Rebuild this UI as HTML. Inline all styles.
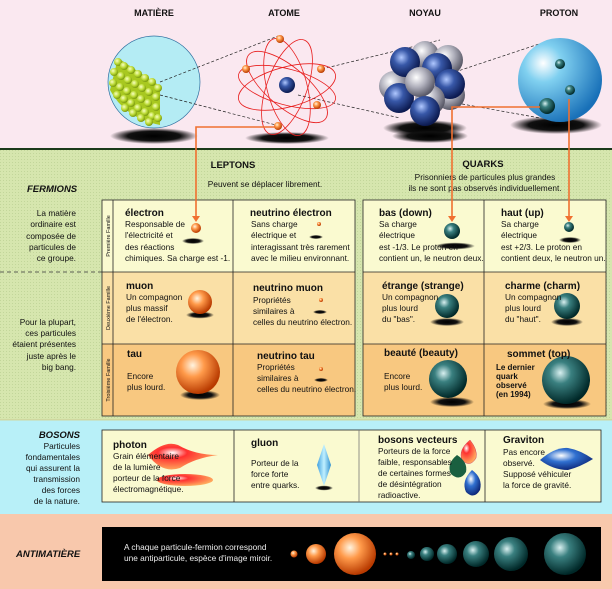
<!DOCTYPE html>
<html><head><meta charset="utf-8"><style>
html,body{margin:0;padding:0;background:#fff}
svg{display:block}
text{font-family:"Liberation Sans",sans-serif;fill:#111}
.h{font-weight:bold;font-size:9px}
.t{font-size:8.3px}
.b{font-weight:bold;font-size:10px}
.fi{font-weight:bold;font-style:italic;font-size:9.5px}
.vl{font-size:5.5px}
</style></head><body>
<svg width="612" height="589" viewBox="0 0 612 589" xmlns="http://www.w3.org/2000/svg">
<defs>
<radialGradient id="or" cx="0.38" cy="0.35" r="0.65"><stop offset="0" stop-color="#fff4e0"/><stop offset="0.4" stop-color="#ff9a4a"/><stop offset="1" stop-color="#b83a00"/></radialGradient>
<radialGradient id="te" cx="0.38" cy="0.35" r="0.65"><stop offset="0" stop-color="#d8f0f0"/><stop offset="0.35" stop-color="#3a8080"/><stop offset="1" stop-color="#002828"/></radialGradient>
<radialGradient id="bl" cx="0.38" cy="0.35" r="0.65"><stop offset="0" stop-color="#b0c8ff"/><stop offset="0.4" stop-color="#3858a8"/><stop offset="1" stop-color="#0c1a50"/></radialGradient>
<radialGradient id="gr" cx="0.38" cy="0.35" r="0.65"><stop offset="0" stop-color="#ffffff"/><stop offset="0.5" stop-color="#b0b0bc"/><stop offset="1" stop-color="#5a5a68"/></radialGradient>
<radialGradient id="gn" cx="0.38" cy="0.35" r="0.65"><stop offset="0" stop-color="#f8ffc0"/><stop offset="0.6" stop-color="#b8d830"/><stop offset="1" stop-color="#7a9810"/></radialGradient>
<radialGradient id="pr" cx="0.3" cy="0.3" r="0.75"><stop offset="0" stop-color="#ffffff"/><stop offset="0.3" stop-color="#80d0f0"/><stop offset="1" stop-color="#1870b8"/></radialGradient>
<radialGradient id="sh" cx="0.5" cy="0.5" r="0.5"><stop offset="0" stop-color="#000"/><stop offset="0.6" stop-color="#111"/><stop offset="1" stop-color="#000" stop-opacity="0"/></radialGradient>
<radialGradient id="red" cx="0.35" cy="0.35" r="0.7"><stop offset="0" stop-color="#fff"/><stop offset="0.3" stop-color="#ff3030"/><stop offset="1" stop-color="#ffb060"/></radialGradient>
<radialGradient id="blu" cx="0.4" cy="0.35" r="0.7"><stop offset="0" stop-color="#fff"/><stop offset="0.4" stop-color="#3070d0"/><stop offset="1" stop-color="#0a2070"/></radialGradient>
<linearGradient id="cy" x1="0" x2="1"><stop offset="0" stop-color="#40a0e0"/><stop offset="0.5" stop-color="#c0f0ff"/><stop offset="1" stop-color="#3090d0"/></linearGradient>
<pattern id="dots" width="3" height="3" patternUnits="userSpaceOnUse"><rect width="3" height="3" fill="#d6e6ae"/><rect width="1" height="1" fill="#c2d69a"/></pattern>
</defs>

<!-- top band -->
<rect x="0" y="0" width="612" height="149" fill="#fae8f0"/>
<rect x="0" y="148" width="612" height="2" fill="#1a3a1a"/>
<text class="h" x="154" y="16" text-anchor="middle">MATIÈRE</text>
<text class="h" x="284" y="16" text-anchor="middle">ATOME</text>
<text class="h" x="425" y="16" text-anchor="middle">NOYAU</text>
<text class="h" x="559" y="16" text-anchor="middle">PROTON</text>

<!-- shadows -->
<ellipse cx="154" cy="136" rx="44" ry="8" fill="url(#sh)"/>
<ellipse cx="287" cy="138" rx="42" ry="6" fill="url(#sh)"/>
<ellipse cx="425" cy="128" rx="42" ry="8" fill="url(#sh)"/>
<ellipse cx="430" cy="136" rx="38" ry="7" fill="url(#sh)"/>
<ellipse cx="556" cy="125" rx="46" ry="9" fill="url(#sh)"/>

<!-- matter -->
<circle cx="154" cy="82" r="46" fill="#b4ecf4" stroke="#3070a0" stroke-width="0.7"/>
<path d="M118,58 L160,86 L160,125 Q125,118 110,90 Z" fill="#a8c820"/>
<g fill="url(#gn)">
<circle cx="118" cy="62" r="4"/><circle cx="124" cy="66" r="4"/><circle cx="131" cy="70" r="4"/><circle cx="138" cy="74" r="4"/><circle cx="145" cy="78" r="4"/><circle cx="152" cy="82" r="4"/><circle cx="158" cy="88" r="4"/>
<circle cx="114" cy="72" r="4"/><circle cx="121" cy="76" r="4"/><circle cx="128" cy="80" r="4"/><circle cx="135" cy="84" r="4"/><circle cx="142" cy="88" r="4"/><circle cx="149" cy="92" r="4"/><circle cx="156" cy="97" r="4"/>
<circle cx="113" cy="83" r="4"/><circle cx="120" cy="87" r="4"/><circle cx="127" cy="91" r="4"/><circle cx="134" cy="95" r="4"/><circle cx="141" cy="99" r="4"/><circle cx="148" cy="103" r="4"/><circle cx="156" cy="107" r="4"/>
<circle cx="117" cy="95" r="4"/><circle cx="124" cy="99" r="4"/><circle cx="131" cy="103" r="4"/><circle cx="138" cy="108" r="4"/><circle cx="145" cy="112" r="4"/><circle cx="152" cy="116" r="4"/><circle cx="158" cy="118" r="4"/>
<circle cx="125" cy="108" r="4"/><circle cx="133" cy="113" r="4"/><circle cx="141" cy="118" r="4"/><circle cx="149" cy="122" r="4"/>
</g>
<g stroke="#222" stroke-dasharray="3,2" stroke-width="0.7" fill="none">
<line x1="160" y1="82" x2="278" y2="36"/><line x1="160" y1="95" x2="276" y2="125"/>
<line x1="322" y1="69" x2="440" y2="40"/><line x1="298" y1="95" x2="400" y2="118"/>
<line x1="455" y1="72" x2="545" y2="42"/><line x1="462" y1="104" x2="540" y2="118"/>
</g>

<!-- atom -->
<g fill="none" stroke="#e82020" stroke-width="0.8">
<ellipse cx="287" cy="87" rx="50" ry="20" transform="rotate(-15 287 87)"/>
<ellipse cx="287" cy="87" rx="50" ry="20" transform="rotate(40 287 87)"/>
<ellipse cx="287" cy="87" rx="50" ry="20" transform="rotate(75 287 87)"/>
<ellipse cx="287" cy="87" rx="50" ry="20" transform="rotate(110 287 87)"/>
<ellipse cx="287" cy="87" rx="50" ry="18" transform="rotate(15 287 87)"/>
</g>
<circle cx="287" cy="85" r="8" fill="url(#bl)"/>
<g fill="url(#or)"><circle cx="280" cy="39" r="4"/><circle cx="246" cy="69" r="4"/><circle cx="321" cy="69" r="4"/><circle cx="317" cy="105" r="4"/><circle cx="278" cy="126" r="4"/></g>

<!-- nucleus -->
<g>
<circle cx="425" cy="55" r="14" fill="url(#gr)"/><circle cx="448" cy="60" r="15" fill="url(#gr)"/>
<circle cx="394" cy="86" r="15" fill="url(#gr)"/><circle cx="450" cy="95" r="15" fill="url(#gr)"/>
<circle cx="405" cy="62" r="15" fill="url(#bl)"/><circle cx="437" cy="68" r="15" fill="url(#bl)"/>
<circle cx="450" cy="84" r="15" fill="url(#bl)"/><circle cx="430" cy="100" r="15" fill="url(#gr)"/>
<circle cx="399" cy="98" r="15" fill="url(#bl)"/><circle cx="420" cy="82" r="15" fill="url(#gr)"/>
<circle cx="425" cy="111" r="15" fill="url(#bl)"/>
</g>

<!-- proton -->
<circle cx="560" cy="80" r="42" fill="url(#pr)"/>
<circle cx="560" cy="64" r="5" fill="url(#te)"/>
<circle cx="570" cy="90" r="5" fill="url(#te)"/>
<circle cx="547" cy="106" r="8" fill="url(#te)"/>

<!-- fermions section -->
<rect x="0" y="150" width="612" height="270" fill="url(#dots)"/>
<text class="b" x="233" y="168" text-anchor="middle" style="font-size:9.5px">LEPTONS</text>
<text class="t" x="265" y="187" text-anchor="middle">Peuvent se déplacer librement.</text>
<text class="b" x="483" y="167" text-anchor="middle" style="font-size:9.5px">QUARKS</text>
<text class="t" x="485" y="180" text-anchor="middle">Prisonniers de particules plus grandes</text>
<text class="t" x="485" y="191" text-anchor="middle">ils ne sont pas observés individuellement.</text>
<text class="fi" x="27" y="192">FERMIONS</text>
<g class="t" text-anchor="end">
<text x="76" y="216">La matière</text><text x="76" y="227">ordinaire est</text><text x="76" y="239">composée de</text><text x="76" y="250">particules de</text><text x="76" y="261">ce groupe.</text>
<text x="76" y="325">Pour la plupart,</text><text x="76" y="336">ces particules</text><text x="76" y="347">étaient présentes</text><text x="76" y="359">juste après le</text><text x="76" y="370">big bang.</text>
</g>
<line x1="0" y1="272" x2="102" y2="272" stroke="#333" stroke-dasharray="4,3" stroke-width="0.8"/>

<!-- lepton table -->
<rect x="102" y="200" width="253" height="72" fill="#fafad0"/>
<rect x="102" y="272" width="253" height="72" fill="#fae0a6"/>
<rect x="102" y="344" width="253" height="72" fill="#f8c880"/>
<rect x="363" y="200" width="243" height="72" fill="#fafad0"/>
<rect x="363" y="272" width="243" height="72" fill="#fae0a6"/>
<rect x="363" y="344" width="243" height="72" fill="#f8c880"/>
<g fill="none" stroke="#222" stroke-width="0.8">
<rect x="102" y="200" width="253" height="216"/><line x1="113" y1="200" x2="113" y2="416"/><line x1="233" y1="200" x2="233" y2="416"/>
<line x1="102" y1="272" x2="355" y2="272"/><line x1="102" y1="344" x2="355" y2="344"/>
<rect x="363" y="200" width="243" height="216"/><line x1="484" y1="200" x2="484" y2="416"/>
<line x1="363" y1="272" x2="606" y2="272"/><line x1="363" y1="344" x2="606" y2="344"/>
</g>
<text class="vl" transform="translate(110,236) rotate(-90)" text-anchor="middle">Première Famille</text>
<text class="vl" transform="translate(110,308) rotate(-90)" text-anchor="middle">Deuxième Famille</text>
<text class="vl" transform="translate(110,380) rotate(-90)" text-anchor="middle">Troisième Famille</text>

<!-- shadows table -->
<g fill="url(#sh)">
<ellipse cx="193" cy="241" rx="11" ry="3"/><ellipse cx="316" cy="237" rx="7" ry="2"/>
<ellipse cx="200" cy="315" rx="14" ry="3.5"/><ellipse cx="320" cy="312" rx="7" ry="2"/>
<ellipse cx="200" cy="395" rx="20" ry="5"/><ellipse cx="321" cy="380" rx="7" ry="2"/>
<ellipse cx="455" cy="246" rx="20" ry="3.5"/><ellipse cx="570" cy="240" rx="11" ry="3"/>
<ellipse cx="447" cy="322" rx="17" ry="4"/><ellipse cx="567" cy="322" rx="16" ry="4"/>
<ellipse cx="452" cy="402" rx="22" ry="5"/><ellipse cx="567" cy="404" rx="24" ry="5"/>
</g>
<g fill="url(#or)">
<circle cx="196" cy="228" r="5"/><circle cx="319" cy="224" r="2"/>
<circle cx="200" cy="302" r="12"/><circle cx="321" cy="300" r="2"/>
<circle cx="198" cy="372" r="22"/><circle cx="321" cy="369" r="2"/>
</g>
<g fill="url(#te)">
<circle cx="452" cy="231" r="8"/><circle cx="569" cy="227" r="5"/>
<circle cx="447" cy="306" r="12"/><circle cx="567" cy="306" r="13"/>
<circle cx="448" cy="379" r="19"/><circle cx="566" cy="380" r="24"/>
</g>

<g class="t">
<text class="b" x="125" y="216">électron</text>
<text x="125" y="227">Responsable de</text><text x="125" y="238">l'électricité et</text><text x="125" y="250">des réactions</text><text x="125" y="261">chimiques. Sa charge est -1.</text>
<text class="b" x="250" y="216">neutrino électron</text>
<text x="251" y="227">Sans charge</text><text x="251" y="238">électrique et</text><text x="251" y="250">interagissant très rarement</text><text x="251" y="261">avec le milieu environnant.</text>
<text class="b" x="126" y="289">muon</text>
<text x="126" y="300">Un compagnon</text><text x="126" y="311">plus massif</text><text x="126" y="322">de l'électron.</text>
<text class="b" x="253" y="291">neutrino muon</text>
<text x="253" y="303">Propriétés</text><text x="253" y="314">similaires à</text><text x="253" y="325">celles du neutrino électron.</text>
<text class="b" x="127" y="357">tau</text>
<text x="127" y="379">Encore</text><text x="127" y="390">plus lourd.</text>
<text class="b" x="257" y="359">neutrino tau</text>
<text x="257" y="370">Propriétés</text><text x="257" y="381">similaires à</text><text x="257" y="392">celles du neutrino électron.</text>
<text class="b" x="379" y="216">bas (down)</text>
<text x="379" y="227">Sa charge</text><text x="379" y="238">électrique</text><text x="379" y="250">est -1/3. Le proton en</text><text x="379" y="261">contient un, le neutron deux.</text>
<text class="b" x="501" y="216">haut (up)</text>
<text x="501" y="227">Sa charge</text><text x="501" y="238">électrique</text><text x="501" y="250">est +2/3. Le proton en</text><text x="501" y="261">contient deux, le neutron un.</text>
<text class="b" x="382" y="289">étrange (strange)</text>
<text x="382" y="300">Un compagnon</text><text x="382" y="311">plus lourd</text><text x="382" y="322">du "bas".</text>
<text class="b" x="505" y="289">charme (charm)</text>
<text x="505" y="300">Un compagnon</text><text x="505" y="311">plus lourd</text><text x="505" y="322">du "haut".</text>
<text class="b" x="384" y="356">beauté (beauty)</text>
<text x="384" y="379">Encore</text><text x="384" y="390">plus lourd.</text>
<text class="b" x="507" y="357">sommet (top)</text>
<g style="font-weight:bold;font-size:8px"><text x="496" y="370">Le dernier</text><text x="496" y="379">quark</text><text x="496" y="388">observé</text><text x="496" y="397">(en 1994)</text></g>
</g>

<!-- orange connectors -->
<g stroke="#f07030" stroke-width="1.6" fill="none">
<polyline points="275,127 196,127 196,218"/>
<polyline points="540,107 452,107 452,218"/>
<line x1="569" y1="99" x2="569" y2="218"/>
</g>
<g fill="#f07030">
<polygon points="192,216 200,216 196,222"/><polygon points="448,216 456,216 452,222"/><polygon points="565,216 573,216 569,222"/>
</g>

<!-- bosons -->
<rect x="0" y="420" width="612" height="95" fill="#b8f0f8"/>
<rect x="0" y="419" width="612" height="1.5" fill="#d0d8a0"/>
<rect x="102" y="430" width="499" height="72" fill="#fafad0" stroke="#222" stroke-width="0.8"/>
<g stroke="#222" stroke-width="0.8"><line x1="234" y1="430" x2="234" y2="502"/><line x1="359" y1="430" x2="359" y2="502" stroke="#777"/><line x1="485" y1="430" x2="485" y2="502"/></g>
<g class="t" text-anchor="end">
<text class="fi" x="80" y="438">BOSONS</text>
<text x="80" y="449">Particules</text><text x="80" y="460">fondamentales</text><text x="80" y="471">qui assurent la</text><text x="80" y="482">transmission</text><text x="80" y="493">des forces</text><text x="80" y="504">de la nature.</text>
</g>
<path d="M148,455 Q165,440 178,445 Q195,455 218,455 Q195,458 180,468 Q162,474 148,455 Z" fill="url(#red)"/>
<ellipse cx="185" cy="480" rx="28" ry="6" fill="url(#red)"/>
<path d="M324,444 L331,465 L324,486 L317,465 Z" fill="url(#cy)"/>
<ellipse cx="324" cy="488" rx="9" ry="2.5" fill="url(#sh)"/>
<path d="M470,440 Q478,450 476,458 Q470,468 462,460 Q458,450 470,440Z" fill="url(#red)" stroke="#d04060" stroke-width="0.5"/>
<path d="M457,455 Q468,462 466,472 Q460,482 451,474 Q446,464 457,455Z" fill="#1a6040"/>
<path d="M472,470 Q483,478 480,490 Q474,500 466,492 Q461,481 472,470Z" fill="url(#blu)"/>
<path d="M540,460 Q555,447 568,448 Q580,450 593,459 Q580,467 568,470 Q553,470 540,460Z" fill="url(#blu)"/>
<g class="t">
<text class="b" x="113" y="448">photon</text>
<text x="113" y="459">Grain élémentaire</text><text x="113" y="470">de la lumière</text><text x="113" y="481">porteur de la force</text><text x="113" y="492">électromagnétique.</text>
<text class="b" x="251" y="446">gluon</text>
<text x="251" y="466">Porteur de la</text><text x="251" y="477">force forte</text><text x="251" y="488">entre quarks.</text>
<text class="b" x="378" y="443">bosons vecteurs</text>
<text x="378" y="454">Porteurs de la force</text><text x="378" y="465">faible, responsables</text><text x="378" y="476">de certaines formes</text><text x="378" y="487">de désintégration</text><text x="378" y="498">radioactive.</text>
<text class="b" x="503" y="443">Graviton</text>
<text x="503" y="455">Pas encore</text><text x="503" y="466">observé.</text><text x="503" y="477">Supposé véhiculer</text><text x="503" y="488">la force de gravité.</text>
</g>

<!-- antimatter -->
<rect x="0" y="514" width="612" height="75" fill="#f8c8ac"/>
<rect x="102" y="527" width="499" height="54" fill="#000"/>
<text class="fi" x="16" y="557">ANTIMATIÈRE</text>
<text class="t" x="124" y="550" style="fill:#eee">A chaque particule-fermion correspond</text>
<text class="t" x="124" y="561" style="fill:#eee">une antiparticule, espèce d'image miroir.</text>
<g fill="url(#or)"><circle cx="294" cy="554" r="3.5"/><circle cx="316" cy="554" r="10"/><circle cx="355" cy="554" r="21"/>
<circle cx="385" cy="554" r="1.5"/><circle cx="391" cy="554" r="1.5"/><circle cx="397" cy="554" r="1.5"/></g>
<g fill="url(#te)"><circle cx="411" cy="555" r="4"/><circle cx="427" cy="554" r="7"/><circle cx="447" cy="554" r="10"/><circle cx="476" cy="554" r="13"/><circle cx="511" cy="554" r="17"/><circle cx="565" cy="554" r="21"/></g>
</svg>
</body></html>
